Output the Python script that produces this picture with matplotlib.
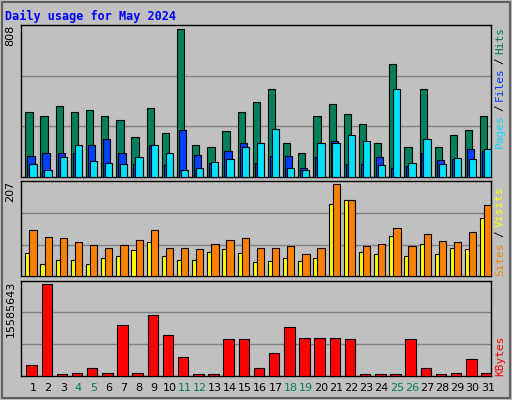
import numpy as np
import matplotlib.pyplot as plt
from matplotlib.patches import Rectangle

days = list(range(1, 32))
weekend = [4, 5, 11, 12, 18, 19, 25, 26]

hits = [358, 336, 391, 358, 364, 331, 309, 221, 375, 238, 808, 177, 166, 249, 353, 408,
        479, 188, 128, 331, 397, 342, 292, 183, 616, 161, 484, 166, 227, 254, 331]
files = [112, 128, 133, 133, 177, 210, 133, 68, 172, 62, 254, 122, 73, 139, 188, 73,
         112, 112, 51, 106, 194, 68, 68, 106, 51, 57, 128, 90, 95, 155, 139]
pages = [68, 40, 106, 177, 84, 73, 68, 106, 172, 133, 40, 51, 79, 95, 161, 183,
         260, 46, 40, 183, 188, 232, 199, 62, 484, 73, 210, 68, 101, 95, 150]
visits = [104, 88, 86, 77, 70, 65, 70, 81, 104, 65, 63, 61, 74, 83, 86, 63,
          63, 68, 50, 63, 207, 171, 68, 74, 108, 68, 95, 79, 77, 101, 160]
sites = [52, 27, 36, 36, 29, 41, 47, 59, 77, 45, 36, 36, 54, 61, 52, 32,
         34, 41, 34, 41, 164, 173, 54, 50, 90, 45, 72, 50, 63, 61, 131]
kbytes = [1763000, 15585643, 220000, 398000, 1251000, 398000, 8589000, 398000, 10296000,
          6883000, 3128000, 220000, 220000, 6200000, 6200000, 1251000, 3811000, 8248000,
          6371000, 6371000, 6371000, 6200000, 220000, 220000, 220000, 6200000, 1251000,
          220000, 398000, 2787000, 398000]

BG = '#c0c0c0'
GRID = '#808080'
c_hits, c_files, c_pages = '#00805c', '#0040ff', '#00e0ff'
c_sites, c_visits, c_kb = '#ffff00', '#ff8000', '#ff0000'
mono = 'DejaVu Sans Mono'

fig = plt.figure(figsize=(5.12, 4.0), dpi=100, facecolor=BG)
fig.patches.append(Rectangle((0.004, 0.004), 0.992, 0.992, transform=fig.transFigure,
                             fill=False, edgecolor='#606060', lw=1.5))

x = np.array(days)
xmin, xmax = 0.466, 31.466

def setup(ax, ymax):
    ax.set_facecolor(BG)
    ax.set_xlim(xmin, xmax)
    ax.set_ylim(0, ymax)
    for f in (1 / 3, 2 / 3):
        ax.axhline(ymax * f, color=GRID, lw=1, zorder=0)
    ax.set_xticks([])
    ax.set_yticks([])
    for s in ax.spines.values():
        s.set_color('black')
        s.set_linewidth(1)

ek = dict(edgecolor='black', linewidth=0.8, align='edge', zorder=3)

ax1 = fig.add_axes([0.041, 0.558, 0.918, 0.379])
setup(ax1, 808 * 151.7 / 147.4)
ax1.bar(x - 0.25, hits, 0.48, color=c_hits, **ek)
ax1.bar(x - 0.12, files, 0.48, color=c_files, **ek)
ax1.bar(x + 0.01, pages, 0.48, color=c_pages, **ek)

ax2 = fig.add_axes([0.041, 0.309, 0.918, 0.239])
setup(ax2, 207 * 95.6 / 92.0)
ax2.bar(x - 0.25, sites, 0.48, color=c_sites, **ek)
ax2.bar(x + 0.02, visits, 0.48, color=c_visits, **ek)

ax3 = fig.add_axes([0.041, 0.061, 0.918, 0.2375])
setup(ax3, 15585643 * 95 / 91.4)
ax3.bar(x - 0.18, kbytes, 0.69, color=c_kb, **ek)

for ax, lab in ((ax1, '808'), (ax2, '207'), (ax3, '15585643')):
    ax.text(-0.012, 1.0, lab, transform=ax.transAxes, rotation=90, ha='right', va='top',
            fontsize=8, family='DejaVu Sans')

def side_label(ax, parts):
    y = 0.0
    for txt, col in parts:
        t = ax.text(1.008, y, txt, transform=ax.transAxes, rotation=90, ha='left',
                    va='bottom', fontsize=8, family=mono, color=col)
        y += len(txt) * 0.043 * (0.379 / ax.get_position().height)

side_label(ax1, [('Pages', c_pages), ('/', 'black'), ('Files', c_files), ('/', 'black'),
                 ('Hits', c_hits)])
for ax, parts in ((ax1, None),):
    pass
ax1.texts[-5].set_y(0.19)
ax1.texts[-4].set_y(0.435)
ax1.texts[-3].set_y(0.5)
ax1.texts[-2].set_y(0.745)
ax1.texts[-1].set_y(0.81)

ax2.text(1.008, 0.0, 'Sites', transform=ax2.transAxes, rotation=90, ha='left', va='bottom',
         fontsize=8, family=mono, color=c_visits)
ax2.text(1.008, 0.41, '/', transform=ax2.transAxes, rotation=90, ha='left', va='bottom',
         fontsize=8, family=mono, color='black')
ax2.text(1.008, 0.52, 'Visits', transform=ax2.transAxes, rotation=90, ha='left', va='bottom',
         fontsize=8, family=mono, color=c_sites)
ax3.text(1.008, 0.0, 'KBytes', transform=ax3.transAxes, rotation=90, ha='left', va='bottom',
         fontsize=8, family=mono, color=c_kb)

for d in days:
    col = c_hits if d in weekend else 'black'
    ax3.text(d + 0.25, -0.08, str(d), transform=ax3.get_xaxis_transform(), ha='center',
             va='top', fontsize=8, color=col)

fig.text(5 / 512, 1 - 16 / 400, 'Daily usage for May 2024', color='#0000ff', fontsize=8.5,
         fontweight='bold', family=mono, va='center', ha='left')

fig.savefig('out.png', dpi=100, facecolor=BG)
